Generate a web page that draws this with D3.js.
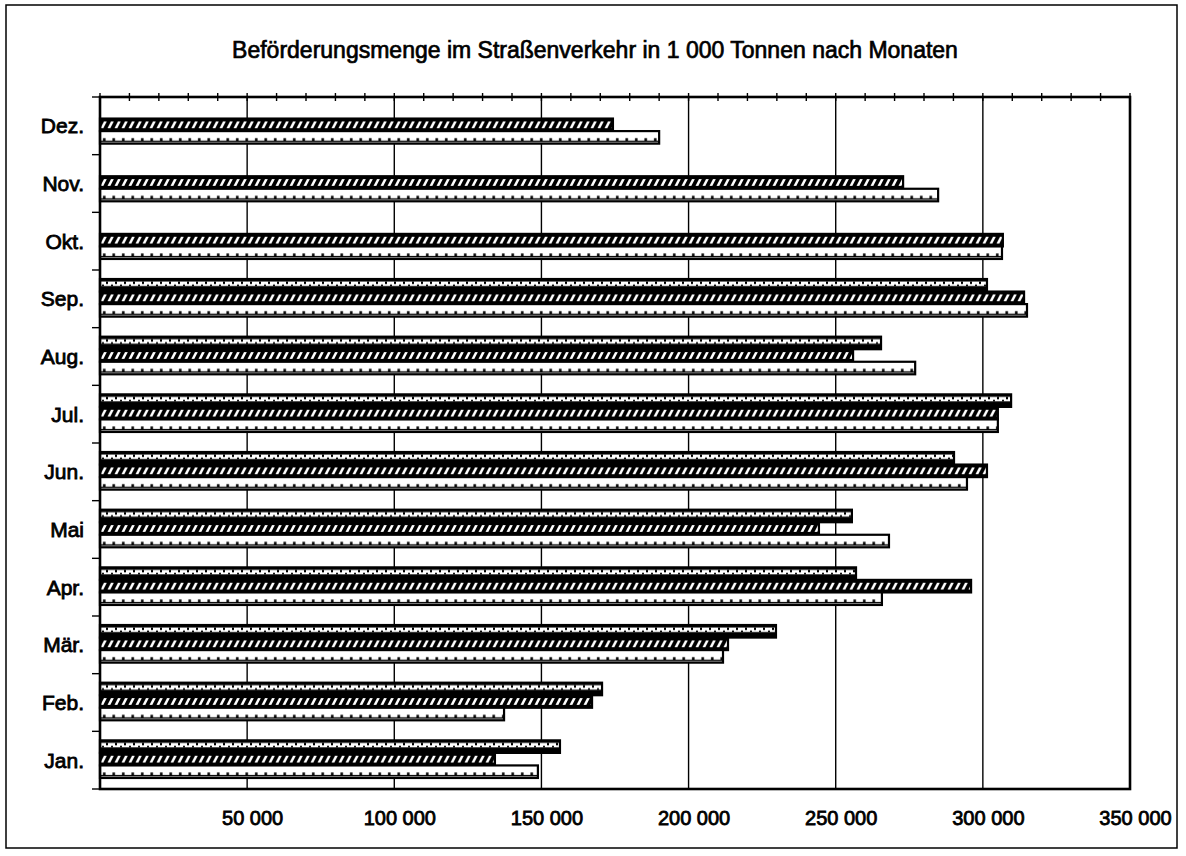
<!DOCTYPE html>
<html lang="de">
<head>
<meta charset="utf-8">
<title>Beförderungsmenge im Straßenverkehr</title>
<style>
  html,body { margin:0; padding:0; background:#fff; }
  svg { display:block; }
  text { font-family: "Liberation Sans", Arial, sans-serif; fill:#000; }
</style>
<script src="https://d3js.org/d3.v7.min.js"></script>
</head>
<body>
<svg></svg>
<script>
// Monate von unten (Jan.) nach oben (Dez.)
const months = ["Jan.", "Feb.", "Mär.", "Apr.", "Mai", "Jun.", "Jul.", "Aug.", "Sep.", "Okt.", "Nov.", "Dez."];
// drei Reihen, je Monat von oben nach unten gezeichnet
const seriesNames = ["r1", "r2", "r3"];
const r1 = [156300, 170600, 229700, 256900, 255500, 290200, 309600, 265400, 301400, null, null, null];
const r2 = [134200, 167200, 213400, 296000, 244300, 301400, 305100, 255900, 314000, 306800, 272900, 174300];
const r3 = [148800, 137300, 211700, 265700, 268100, 294600, 305100, 277000, 315000, 306500, 284800, 190000];
const tickValues = [50000, 100000, 150000, 200000, 250000, 300000, 350000];
const title = "Beförderungsmenge im Straßenverkehr in 1 000 Tonnen nach Monaten";

const W = 1186, H = 856;
const svg = d3.select("svg").attr("width", W).attr("height", H);

const x = d3.scaleLinear().domain([0, 350000]).range([100, 1130]);
const y = d3.scaleBand().domain(months.slice().reverse()).range([97, 789]);
const ys = d3.scaleBand().domain(seriesNames).range([0, y.bandwidth()]).paddingOuter(0.8).align(0.45);
const bh = ys.bandwidth();

// outer frame
svg.append("rect").attr("x", 6).attr("y", 5).attr("width", 1171).attr("height", 843)
  .attr("fill", "none").attr("stroke", "#000").attr("stroke-width", 1.5);

// patterns (userSpaceOnUse, every bar sits in its own translated group)
const defs = svg.append("defs");
const pDark = defs.append("pattern").attr("id", "pDark").attr("patternUnits", "userSpaceOnUse")
  .attr("width", 9).attr("height", bh);
pDark.append("rect").attr("width", 9).attr("height", bh).attr("fill", "#000");
pDark.append("rect").attr("x", 0).attr("y", 2.5).attr("width", 9).attr("height", 4.5).attr("fill", "#fff");
pDark.append("rect").attr("x", 6).attr("y", 2.5).attr("width", 2).attr("height", 2.5).attr("fill", "#000");
pDark.append("rect").attr("x", 2).attr("y", 5.5).attr("width", 2).attr("height", 1.5).attr("fill", "#000");

const pHatch = defs.append("pattern").attr("id", "pHatch").attr("patternUnits", "userSpaceOnUse")
  .attr("width", 7).attr("height", bh);
pHatch.append("rect").attr("width", 7).attr("height", bh).attr("fill", "#000");
pHatch.append("polygon")
  .attr("points", [[0.5, bh - 3], [4, 3], [6.8, 3], [3.3, bh - 3]].map(p => p.join(",")).join(" "))
  .attr("fill", "#fff");

const pLight = defs.append("pattern").attr("id", "pLight").attr("patternUnits", "userSpaceOnUse")
  .attr("width", 9.5).attr("height", bh);
pLight.append("rect").attr("width", 9.5).attr("height", bh).attr("fill", "#fff");
pLight.append("rect").attr("x", 0).attr("y", bh - 3).attr("width", 9.5).attr("height", 1.5).attr("fill", "#000");
pLight.append("rect").attr("x", 3).attr("y", bh - 5.5).attr("width", 2.5).attr("height", 3).attr("fill", "#000");

const fills = {r1: "url(#pDark)", r2: "url(#pHatch)", r3: "url(#pLight)"};
const values = {r1, r2, r3};

// grid lines
svg.append("g").selectAll("line")
  .data(tickValues.slice(0, -1))
  .join("line")
    .attr("x1", d => x(d)).attr("x2", d => x(d))
    .attr("y1", 97).attr("y2", 789)
    .attr("stroke", "#000").attr("stroke-width", 1.4);

// bars
const rows = [];
months.forEach((m, i) => {
  seriesNames.forEach(s => {
    const v = values[s][i];
    if (v != null) rows.push({m, s, v});
  });
});

svg.append("g").selectAll("g.bar")
  .data(rows)
  .join("g")
    .attr("class", "bar")
    .attr("transform", d => `translate(${x(0)},${y(d.m) + ys(d.s)})`)
  .append("rect")
    .attr("width", d => x(d.v) - x(0))
    .attr("height", bh)
    .attr("fill", d => fills[d.s])
    .attr("stroke", "#000")
    .attr("stroke-width", 2.2);

// plot frame
svg.append("rect").attr("x", 100).attr("y", 97).attr("width", 1030).attr("height", 692)
  .attr("fill", "none").attr("stroke", "#000").attr("stroke-width", 2.6);

// minor ticks on top edge
svg.append("g").selectAll("line")
  .data(d3.range(0, 350001, 10000))
  .join("line")
    .attr("x1", d => x(d)).attr("x2", d => x(d))
    .attr("y1", 93).attr("y2", 101)
    .attr("stroke", "#000").attr("stroke-width", 1.4);

// category ticks on left edge
svg.append("g").selectAll("line")
  .data(d3.range(0, months.length + 1))
  .join("line")
    .attr("x1", 92).attr("x2", 100)
    .attr("y1", i => 97 + i * y.step()).attr("y2", i => 97 + i * y.step())
    .attr("stroke", "#000").attr("stroke-width", 1.4);

// month labels
svg.append("g").selectAll("text")
  .data(months)
  .join("text")
    .attr("x", 84)
    .attr("y", d => y(d) + y.bandwidth() / 2)
    .attr("dy", "0.36em")
    .attr("text-anchor", "end")
    .attr("font-size", 21)
    .attr("stroke", "#000").attr("stroke-width", 0.8)
    .text(d => d);

// bottom axis labels
const fmt = d => d3.format(",")(d).replace(/,/g, " ");
const xAxis = svg.append("g")
  .attr("transform", "translate(0,789)")
  .call(d3.axisBottom(x).tickValues(tickValues).tickFormat(fmt).tickSize(0).tickPadding(22));
xAxis.select(".domain").remove();
xAxis.selectAll("text")
  .attr("dx", 5)
  .attr("font-size", 20)
  .attr("font-family", "Liberation Sans, Arial, sans-serif")
  .attr("stroke", "#000").attr("stroke-width", 0.8);

// title
svg.append("text")
  .attr("x", 595).attr("y", 58)
  .attr("text-anchor", "middle")
  .attr("font-size", 23)
  .attr("stroke", "#000").attr("stroke-width", 0.7)
  .text(title);
</script>
</body>
</html>
